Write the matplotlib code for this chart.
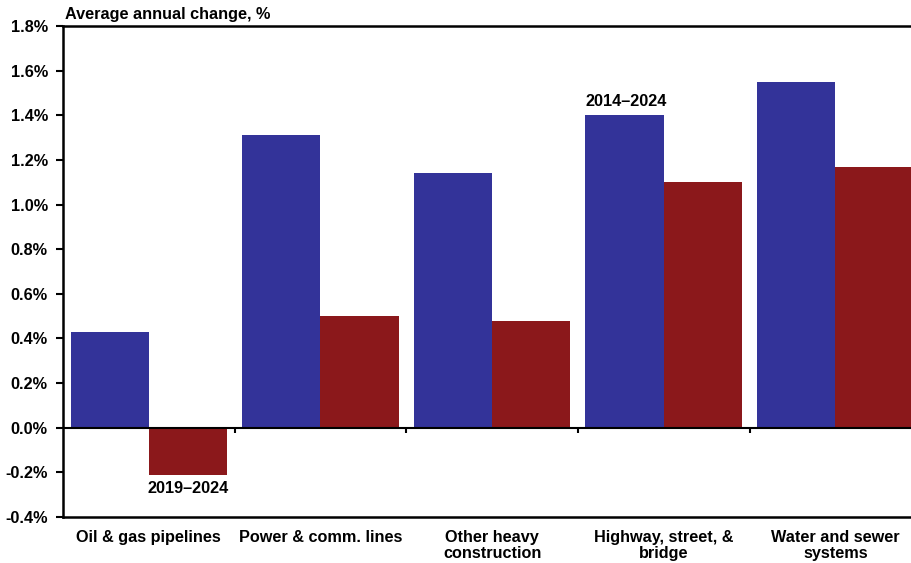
import numpy as np
import matplotlib
matplotlib.use("Agg")
import matplotlib.pyplot as plt
from matplotlib.ticker import FuncFormatter

plt.rcParams['font.family'] = ['Liberation Sans', 'DejaVu Sans']
plt.rcParams['font.size'] = 11.7
plt.rcParams['font.weight'] = 'bold'

# data
categories = ["Oil & gas pipelines", "Power & comm. lines", "Other heavy\nconstruction",
              "Highway, street, &\nbridge", "Water and sewer\nsystems"]
change_2014_2024 = [0.43, 1.31, 1.14, 1.40, 1.55]
change_2019_2024 = [-0.21, 0.50, 0.48, 1.10, 1.17]

blue = '#333399'
red = '#8B181B'

fig = plt.figure(figsize=(9.11, 5.63), dpi=100)
ax = fig.add_axes([0.0692, 0.0817, 0.9420, 0.872])

x = np.arange(len(categories))
w = 0.456
ax.bar(x - w / 2, change_2014_2024, w, color=blue)
ax.bar(x + w / 2, change_2019_2024, w, color=red)

ax.set_xlim(-0.5, len(categories) - 0.5)
ax.set_ylim(-0.4, 1.8)
ax.set_yticks(np.arange(-0.4, 1.81, 0.2))
ax.yaxis.set_major_formatter(FuncFormatter(lambda v, p: '%.1f%%' % (0.0 if abs(v) < 1e-9 else v)))
ax.tick_params(axis='y', direction='out', length=5, width=1.5, pad=6, labelsize=11.7)

# category labels at the bottom, no ticks there
ax.set_xticks(x)
ax.set_xticklabels(categories, fontsize=11.7, linespacing=1.15)
ax.tick_params(axis='x', length=0, pad=9)

# zero line with boundary ticks
ax.axhline(0, color='black', lw=1.5, zorder=3)
bounds = x[:-1] + 0.5
ax.vlines(bounds, -0.025, 0, color='black', lw=1.5, zorder=3)

for s in ['left', 'bottom', 'top']:
    ax.spines[s].set_linewidth(1.8)
ax.spines['right'].set_visible(False)

# labels
ax.text(x[3] - w, change_2014_2024[3] + 0.03, '2014\u20132024', ha='left', va='bottom',
        fontsize=11.7, fontweight='bold')
ax.text(x[0] + w / 2, change_2019_2024[0] - 0.03, '2019\u20132024', ha='center', va='top',
        fontsize=11.7, fontweight='bold')
fig.text(0.0714, 0.975, 'Average annual change, %', ha='left', va='center',
         fontsize=11.7, fontweight='bold')

fig.savefig('out.png', dpi=100)
